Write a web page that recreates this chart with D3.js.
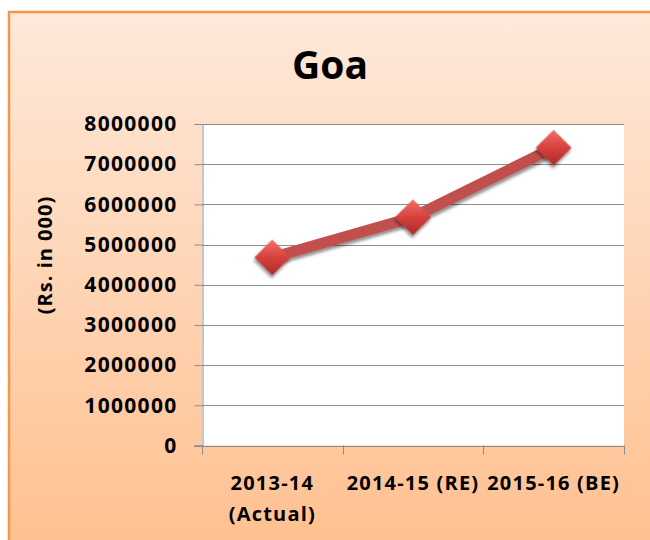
<!DOCTYPE html>
<html lang="en">
<head>
  <meta charset="UTF-8">
  <title>Goa</title>
  <script src="https://d3js.org/d3.v7.min.js"></script>
  <style>
    body { margin: 0; background: #fff; }
    text { font-family: "Open Sans", sans-serif; font-weight: 700; fill: #000; }
  </style>
</head>
<body>
  <div id="chart"></div>

  <script>
    const categories = ["2013-14 (Actual)", "2014-15 (RE)", "2015-16 (BE)"];
    const labelLines = [["2013-14", "(Actual)"], ["2014-15 (RE)"], ["2015-16 (BE)"]];
    const values = [4680000, 5680000, 7410000];
    const yTicks = [0, 1000000, 2000000, 3000000, 4000000, 5000000, 6000000, 7000000, 8000000];

    const width = 650, height = 540;
    const plot = { left: 202, right: 624, top: 124, bottom: 445.5 };

    const svg = d3.select("#chart").append("svg")
      .attr("width", width)
      .attr("height", height);

    const defs = svg.append("defs");
    const bg = defs.append("linearGradient").attr("id", "bg").attr("x1", 0).attr("y1", 0).attr("x2", 0).attr("y2", 1);
    bg.append("stop").attr("offset", "0%").attr("stop-color", "#fee9da");
    bg.append("stop").attr("offset", "100%").attr("stop-color", "#ffc08f");

    // marker shading: lighter top-left facet, darker bottom-right
    const mk = defs.append("linearGradient").attr("id", "mk").attr("x1", 0).attr("y1", 0).attr("x2", 1).attr("y2", 1);
    mk.append("stop").attr("offset", "0%").attr("stop-color", "#f0706b");
    mk.append("stop").attr("offset", "50%").attr("stop-color", "#d6413d");
    mk.append("stop").attr("offset", "100%").attr("stop-color", "#a82c29");

    const sh = defs.append("filter").attr("id", "shadow").attr("x", "-50%").attr("y", "-50%").attr("width", "200%").attr("height", "200%");
    sh.append("feDropShadow").attr("dx", 1.5).attr("dy", 2.5).attr("stdDeviation", 1.8).attr("flood-color", "#000").attr("flood-opacity", 0.45);

    // chart area
    svg.append("rect")
      .attr("x", 9).attr("y", 12)
      .attr("width", width).attr("height", height)
      .attr("fill", "url(#bg)")
      .attr("stroke", "#f79646")
      .attr("stroke-width", 2.5);

    const x = d3.scaleBand().domain(categories).range([plot.left, plot.right]);
    const y = d3.scaleLinear().domain([0, 8000000]).range([plot.bottom, plot.top]);

    svg.append("rect")
      .attr("x", plot.left).attr("y", plot.top)
      .attr("width", plot.right - plot.left).attr("height", plot.bottom - plot.top)
      .attr("fill", "#fff");

    // gridlines
    svg.append("g")
      .selectAll("line")
      .data(yTicks.slice(1))
      .join("line")
      .attr("x1", plot.left).attr("x2", plot.right)
      .attr("y1", d => Math.round(y(d)) + 0.5).attr("y2", d => Math.round(y(d)) + 0.5)
      .attr("stroke", "#8c8c8c").attr("stroke-width", 1);

    // y axis
    const yAxis = svg.append("g")
      .attr("transform", `translate(${plot.left + 0.5},0)`)
      .call(d3.axisLeft(y).tickValues(yTicks).tickSize(8).tickPadding(17).tickFormat(d3.format("d")));
    yAxis.select(".domain").attr("stroke", "#8c8c8c");
    yAxis.selectAll(".tick line").attr("stroke", "#8c8c8c");
    yAxis.selectAll(".tick text")
      .attr("font-size", 21).attr("letter-spacing", 1.3)
      .attr("font-family", "'Open Sans', sans-serif").attr("font-weight", 700).attr("fill", "#000");

    // x axis
    const bounds = categories.map(c => x(c)).concat([plot.right]);
    svg.append("line")
      .attr("x1", plot.left - 8).attr("x2", plot.right)
      .attr("y1", Math.round(plot.bottom) + 0.5).attr("y2", Math.round(plot.bottom) + 0.5)
      .attr("stroke", "#8c8c8c");
    svg.append("g").selectAll("line")
      .data(bounds)
      .join("line")
      .attr("x1", d => Math.round(d) + 0.5).attr("x2", d => Math.round(d) + 0.5)
      .attr("y1", plot.bottom).attr("y2", plot.bottom + 9)
      .attr("stroke", "#8c8c8c");

    svg.append("g").selectAll("text")
      .data(categories)
      .join("text")
      .attr("x", d => x(d) + x.bandwidth() / 2)
      .attr("y", 490)
      .attr("text-anchor", "middle")
      .attr("font-size", 20)
      .attr("letter-spacing", 1.2)
      .selectAll("tspan")
      .data((d, i) => labelLines[i])
      .join("tspan")
      .attr("x", function () { return d3.select(this.parentNode).attr("x"); })
      .attr("dy", (d, i) => i === 0 ? 0 : 31)
      .text(d => d);

    // axis title
    svg.append("text")
      .attr("transform", "translate(52,255) rotate(-90)")
      .attr("text-anchor", "middle")
      .attr("font-size", 20)
      .attr("letter-spacing", 1)
      .text("(Rs. in 000)");

    // title
    svg.append("text")
      .attr("x", 330).attr("y", 79)
      .attr("text-anchor", "middle")
      .attr("font-size", 39)
      .text("Goa");

    // series
    const cx = d => x(d) + x.bandwidth() / 2;
    svg.append("path")
      .datum(values)
      .attr("d", d3.line().x((d, i) => cx(categories[i])).y(d => y(d)))
      .attr("fill", "none")
      .attr("stroke", "#c0504d")
      .attr("stroke-width", 11)
      .attr("filter", "url(#shadow)");

    svg.append("g").selectAll("path")
      .data(values)
      .join("path")
      .attr("d", d3.symbol().type(d3.symbolSquare).size(640))
      .attr("transform", (d, i) => `translate(${cx(categories[i])},${y(d)}) rotate(45)`)
      .attr("fill", "url(#mk)")
      .attr("filter", "url(#shadow)");
  </script>
</body>
</html>
